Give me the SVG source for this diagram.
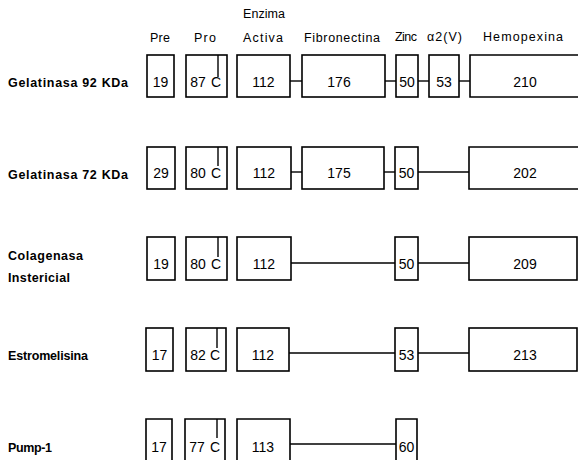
<svg xmlns="http://www.w3.org/2000/svg" width="578" height="460" viewBox="0 0 578 460">
<style>
.b{fill:none;stroke:#000;stroke-width:1.6}
.c{stroke:#000;stroke-width:1.4;fill:none}
.h{font-family:"Liberation Sans",Arial,sans-serif;font-size:12.5px;fill:#000}
.l{font-family:"Liberation Sans",Arial,sans-serif;font-size:12.5px;font-weight:bold;fill:#000}
.n{font-family:"Liberation Sans",Arial,sans-serif;font-size:14px;fill:#000;text-anchor:middle}
</style>
<rect width="578" height="460" fill="#fff"/>
<g id="headers">
<text class="h" x="150" y="42" textLength="20">Pre</text>
<text class="h" x="194" y="42" textLength="22">Pro</text>
<text class="h" x="243" y="18" textLength="42">Enzima</text>
<text class="h" x="243" y="42" textLength="40">Activa</text>
<text class="h" x="304" y="42" textLength="76">Fibronectina</text>
<text class="h" x="395" y="41" textLength="22">Zinc</text>
<text class="h" x="427" y="41" textLength="35">α2(V)</text>
<text class="h" x="483" y="41" textLength="80">Hemopexina</text>
</g>
<g id="labels">
<text class="l" x="8" y="87" textLength="120">Gelatinasa 92 KDa</text>
<text class="l" x="8" y="179" textLength="120">Gelatinasa 72 KDa</text>
<text class="l" x="8" y="260" textLength="75">Colagenasa</text>
<text class="l" x="8" y="282" textLength="62">Instericial</text>
<text class="l" x="8" y="360" textLength="80">Estromelisina</text>
<text class="l" x="8" y="452" textLength="44">Pump-1</text>
</g>
<g id="connectors">
<line class="c" x1="290" y1="81" x2="302" y2="81"/>
<line class="c" x1="385" y1="81" x2="396" y2="81"/>
<line class="c" x1="418" y1="81" x2="429" y2="81"/>
<line class="c" x1="459" y1="81" x2="470" y2="81"/>
<line class="c" x1="291" y1="172" x2="302" y2="172"/>
<line class="c" x1="384" y1="172" x2="395" y2="172"/>
<line class="c" x1="418" y1="172" x2="469" y2="172"/>
<line class="c" x1="291" y1="263" x2="395" y2="263"/>
<line class="c" x1="418" y1="263" x2="469" y2="263"/>
<line class="c" x1="289" y1="353" x2="395" y2="353"/>
<line class="c" x1="418" y1="353" x2="469" y2="353"/>
<line class="c" x1="290" y1="444" x2="396" y2="444"/>
</g>
<!-- Row 1 -->
<g id="g92-pre"><rect class="b" x="147" y="55" width="27" height="42"/><text class="n" x="160.5" y="87">19</text></g>
<g id="g92-pro"><rect class="b" x="186" y="55" width="41" height="42"/><line class="c" x1="218" y1="55" x2="218" y2="77"/><text class="n" x="198" y="87">87</text><text class="n" x="216" y="87">C</text></g>
<g id="g92-enz"><rect class="b" x="237" y="55" width="53" height="42"/><text class="n" x="263.5" y="87">112</text></g>
<g id="g92-fib"><rect class="b" x="302" y="55" width="83" height="42"/><text class="n" x="339" y="87">176</text></g>
<g id="g92-zinc"><rect class="b" x="396" y="55" width="22" height="42"/><text class="n" x="407" y="87">50</text></g>
<g id="g92-a2v"><rect class="b" x="429" y="55" width="30" height="42"/><text class="n" x="444" y="87">53</text></g>
<g id="g92-hemo"><path class="b" d="M578,55 H470 V97 H578"/><text class="n" x="525" y="87">210</text></g>
<!-- Row 2 -->
<g id="g72-pre"><rect class="b" x="147" y="147" width="28" height="42"/><text class="n" x="161" y="178">29</text></g>
<g id="g72-pro"><rect class="b" x="186" y="147" width="41" height="42"/><line class="c" x1="218" y1="147" x2="218" y2="166"/><text class="n" x="198" y="178">80</text><text class="n" x="216" y="178">C</text></g>
<g id="g72-enz"><rect class="b" x="237" y="147" width="54" height="42"/><text class="n" x="264" y="178">112</text></g>
<g id="g72-fib"><rect class="b" x="302" y="147" width="82" height="42"/><text class="n" x="339" y="178">175</text></g>
<g id="g72-zinc"><rect class="b" x="395" y="147" width="23" height="42"/><text class="n" x="406.5" y="178">50</text></g>
<g id="g72-hemo"><path class="b" d="M578,147 H469 V189 H578"/><text class="n" x="525" y="178">202</text></g>
<!-- Row 3 -->
<g id="col-pre"><rect class="b" x="147" y="237" width="28" height="43"/><text class="n" x="161" y="269">19</text></g>
<g id="col-pro"><rect class="b" x="186" y="237" width="41" height="43"/><line class="c" x1="218" y1="237" x2="218" y2="257"/><text class="n" x="198" y="269">80</text><text class="n" x="216" y="269">C</text></g>
<g id="col-enz"><rect class="b" x="237" y="237" width="54" height="43"/><text class="n" x="264" y="269">112</text></g>
<g id="col-zinc"><rect class="b" x="395" y="237" width="23" height="43"/><text class="n" x="406.5" y="269">50</text></g>
<g id="col-hemo"><rect class="b" x="469" y="237" width="108" height="43"/><text class="n" x="525" y="269">209</text></g>
<!-- Row 4 -->
<g id="est-pre"><rect class="b" x="146" y="328" width="27" height="43"/><text class="n" x="159.5" y="360">17</text></g>
<g id="est-pro"><rect class="b" x="186" y="328" width="40" height="43"/><line class="c" x1="217" y1="328" x2="217" y2="348"/><text class="n" x="198" y="360">82</text><text class="n" x="215" y="360">C</text></g>
<g id="est-enz"><rect class="b" x="237" y="328" width="52" height="43"/><text class="n" x="263" y="360">112</text></g>
<g id="est-zinc"><rect class="b" x="395" y="328" width="23" height="43"/><text class="n" x="406.5" y="360">53</text></g>
<g id="est-hemo"><rect class="b" x="469" y="328" width="108" height="43"/><text class="n" x="525" y="360">213</text></g>
<!-- Row 5 -->
<g id="pump-pre"><path class="b" d="M146,461 V419 H172 V461"/><text class="n" x="159" y="452">17</text></g>
<g id="pump-pro"><path class="b" d="M185,461 V419 H225 V461"/><line class="c" x1="217" y1="419" x2="217" y2="438"/><text class="n" x="197" y="452">77</text><text class="n" x="215" y="452">C</text></g>
<g id="pump-enz"><path class="b" d="M237,461 V419 H290 V461"/><text class="n" x="263" y="452">113</text></g>
<g id="pump-zinc"><path class="b" d="M396,461 V419 H417 V461"/><text class="n" x="406.5" y="452">60</text></g>
</svg>
